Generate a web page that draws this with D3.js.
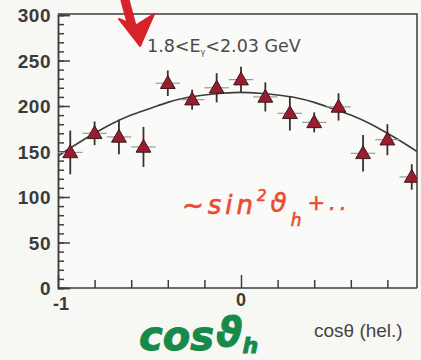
<!DOCTYPE html>
<html>
<head>
<meta charset="utf-8">
<script src="https://cdn.jsdelivr.net/npm/d3@7"></script>
<style>
  html, body { margin: 0; padding: 0; background: #f7f7f4; }
  svg { display: block; }
</style>
</head>
<body>
<script>
// Helicity-angle distribution, 1.8 < E_gamma < 2.03 GeV
const binCentres = [-0.933, -0.8, -0.667, -0.533, -0.4, -0.267, -0.133, 0,
                    0.133, 0.267, 0.4, 0.533, 0.667, 0.8, 0.933];
const counts     = [149, 170, 166, 155, 225, 207, 220, 229, 210, 192, 182, 199, 148, 163, 122];
const errors     = [24, 13, 19, 22, 14, 11, 16, 14, 16, 19, 11, 15, 20, 17, 14];
const binHalfWidth = 0.0667;

// fitted curve, read along cos(theta)
const fitX = [-1, -0.9, -0.8, -0.7, -0.6, -0.5, -0.4, -0.3, -0.2, -0.1, 0,
              0.1, 0.2, 0.3, 0.4, 0.5, 0.6, 0.7, 0.8, 0.9, 1];
const fitY = [145, 158, 170, 181, 190, 197, 204, 209, 212, 214, 215,
              214, 212, 209, 204, 197, 190, 181, 170, 158, 145];

const yMajorTicks = [0, 50, 100, 150, 200, 250, 300];
const xMajorTicks = [-1, 0];
const xTickLabels = ["-1", "0"];

const W = 421, H = 360;
const svg = d3.select("body").append("svg").attr("width", W).attr("height", H);

const x = d3.scaleLinear().domain([-1, 1]).range([58, 424]);
const y = d3.scaleLinear().domain([0, 300]).range([288, 15]);
const frameRight = 417, frameTop = 14;
const axisCol = "#3e3e3e";

svg.append("rect").attr("x", 0).attr("y", 0).attr("width", W).attr("height", H).attr("fill", "#f7f7f4");
svg.append("rect").attr("x", x(-1)).attr("y", frameTop)
  .attr("width", frameRight - x(-1)).attr("height", y(0) - frameTop).attr("fill", "#fafaf8");

svg.append("defs").append("clipPath").attr("id", "plotClip")
  .append("rect").attr("x", x(-1)).attr("y", frameTop)
  .attr("width", frameRight - x(-1)).attr("height", y(0) - frameTop);

// frame top and right
svg.append("path")
  .attr("d", `M${x(-1)},${frameTop}H${frameRight}V${y(0)}`)
  .attr("fill", "none").attr("stroke", axisCol).attr("stroke-width", 1.5);

// y axis with inward ticks
const yAxisMajor = d3.axisRight(y).tickValues(yMajorTicks).tickSize(12).tickFormat("");
const yAxisMinor = d3.axisRight(y).tickValues(d3.range(0, 301, 10)).tickSize(6).tickFormat("");
[yAxisMinor, yAxisMajor].forEach(ax => {
  const g = svg.append("g").attr("transform", `translate(${x(-1)},0)`).call(ax);
  g.selectAll("path, line").attr("stroke", axisCol).attr("stroke-width", 1.5);
});
svg.append("g").selectAll("text").data(yMajorTicks).join("text")
  .attr("x", 51).attr("y", d => y(d) + 7)
  .attr("text-anchor", "end")
  .attr("font-family", "Liberation Sans, Arial, sans-serif")
  .attr("font-weight", "bold").attr("font-size", 19).attr("letter-spacing", 0.5)
  .attr("fill", "#3a3a3a")
  .text(d => d);

// x axis with inward ticks
const xMinorVals = [-0.8, -0.6, -0.4, -0.2, 0.2, 0.4, 0.6, 0.8];
const xAxisMinor = d3.axisTop(x).tickValues(xMinorVals).tickSize(8).tickFormat("");
const xAxisMajor = d3.axisTop(x).tickValues(xMajorTicks).tickSize(13).tickFormat("");
[xAxisMinor, xAxisMajor].forEach(ax => {
  const g = svg.append("g").attr("transform", `translate(0,${y(0)})`).call(ax);
  g.select("path.domain").remove();
  g.selectAll("line").attr("stroke", axisCol).attr("stroke-width", 1.5);
});
svg.append("line").attr("x1", x(-1)).attr("x2", frameRight)
  .attr("y1", y(0)).attr("y2", y(0)).attr("stroke", axisCol).attr("stroke-width", 1.5);
svg.append("g").selectAll("text").data(xMajorTicks).join("text")
  .attr("x", d => x(d) + (d === -1 ? 3 : 0)).attr("y", (d, i) => i === 0 ? 310 : 306)
  .attr("text-anchor", "middle")
  .attr("font-family", "Liberation Sans, Arial, sans-serif")
  .attr("font-weight", "bold").attr("font-size", 18).attr("fill", "#3a3a3a")
  .text((d, i) => xTickLabels[i]);

// axis title
svg.append("text").attr("x", 314).attr("y", 337)
  .attr("font-family", "Liberation Sans, Arial, sans-serif")
  .attr("font-size", 19).attr("fill", "#444")
  .text("cosθ (hel.)");

// energy range label
const lab = svg.append("text").attr("x", 147).attr("y", 52)
  .attr("font-family", "DejaVu Sans, sans-serif")
  .attr("font-size", 17.5).attr("fill", "#4a4a4a");
lab.append("tspan").text("1.8<E");
lab.append("tspan").attr("font-size", 8).attr("dy", 3).text("γ");
lab.append("tspan").attr("dy", -3).text("<2.03 GeV");

const plot = svg.append("g").attr("clip-path", "url(#plotClip)");

// fit curve
plot.append("path")
  .datum(fitX.map((d, i) => [d, fitY[i]]))
  .attr("d", d3.line().x(d => x(d[0])).y(d => y(d[1])).curve(d3.curveMonotoneX))
  .attr("fill", "none").attr("stroke", "#3a3f3a").attr("stroke-width", 1.6);

// data points
const pts = plot.append("g").selectAll("g").data(counts).join("g");
pts.append("line")
  .attr("x1", (d, i) => x(binCentres[i] - binHalfWidth))
  .attr("x2", (d, i) => x(binCentres[i] + binHalfWidth))
  .attr("y1", d => y(d)).attr("y2", d => y(d))
  .attr("stroke", "#9a9a94").attr("stroke-width", 1.2);
pts.append("line")
  .attr("x1", (d, i) => x(binCentres[i])).attr("x2", (d, i) => x(binCentres[i]))
  .attr("y1", (d, i) => y(d - errors[i])).attr("y2", (d, i) => y(d + errors[i]))
  .attr("stroke", "#3a3030").attr("stroke-width", 1.8);
pts.append("path")
  .attr("d", d3.symbol(d3.symbolTriangle, 95))
  .attr("transform", (d, i) => `translate(${x(binCentres[i])},${y(d) + 1})`)
  .attr("fill", "#9a1c2e").attr("stroke", "#3b1a1c").attr("stroke-width", 1);

// red pen arrow
svg.append("path")
  .attr("d", "M125,0 L132,26")
  .attr("stroke", "#d8222a").attr("stroke-width", 9).attr("stroke-linecap", "round").attr("fill", "none");
svg.append("path")
  .attr("d", "M119,19 L140,46 L154,14 L135,26 Z")
  .attr("fill", "#d8222a").attr("stroke", "#d8222a").attr("stroke-width", 2).attr("stroke-linejoin", "round");

// red pen note
const red = svg.append("text").attr("x", 182).attr("y", 214)
  .attr("font-family", "DejaVu Sans, sans-serif").attr("font-style", "italic")
  .attr("font-size", 26).attr("letter-spacing", 4).attr("fill", "#ec4a30")
  .attr("stroke", "#ec4a30").attr("stroke-width", 0.6);
red.append("tspan").text("~sin");
red.append("tspan").attr("font-size", 15).attr("dy", -13).attr("dx", 0).text("2");
red.append("tspan").attr("dy", 11).attr("dx", 0).text("ϑ");
red.append("tspan").attr("font-size", 17).attr("dy", 14).text("h");
red.append("tspan").attr("font-size", 21).attr("dy", -16).attr("dx", 2).text("+..");

// green pen note
const green = svg.append("text").attr("x", 139).attr("y", 350)
  .attr("font-family", "DejaVu Sans, sans-serif").attr("font-style", "italic")
  .attr("font-weight", "bold").attr("font-size", 40).attr("fill", "#178a4a")
  .attr("stroke", "#178a4a").attr("stroke-width", 1);
green.append("tspan").text("cos");
green.append("tspan").attr("dy", -4).attr("dx", 2).text("ϑ");
green.append("tspan").attr("font-size", 22).attr("dy", 7).text("h");
</script>
</body>
</html>
